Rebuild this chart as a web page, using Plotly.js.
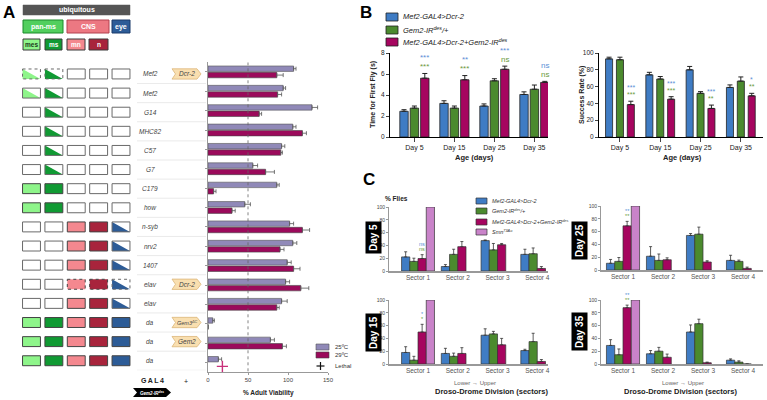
<!DOCTYPE html>
<html><head><meta charset="utf-8">
<script src="https://cdn.plot.ly/plotly-3.0.1.min.js"></script>
<style>html,body{margin:0;padding:0;background:#fff}#chart{width:767px;height:400px}</style>
</head><body><div id="chart"></div>
<script>
// ================= DATA =================
// Panel A
const driverLabels = ["Mef2","Mef2","G14","MHC82","C57","G7","C179","how","n-syb","nrv2","1407","elav","elav","da","da","da"];
const uasTags = ["Dcr-2","","","","","","","","","","","Dcr-2","","Gem3<sup>ΔC</sup>","Gem2",""];
const exprColumns = ["mes","ms","mn","n","eye"];
// 0 = not expressed, 1 = expressed, 2 = partial expression
const exprPattern = [
  [2,2,0,0,0],[2,2,0,0,0],[0,2,0,0,0],[0,2,0,0,0],[0,2,0,0,0],[0,2,0,0,0],
  [1,1,0,0,0],[1,1,0,0,0],[0,0,1,1,2],[0,0,1,1,2],[0,0,1,1,2],[0,0,1,1,2],
  [0,0,1,1,2],[1,1,1,1,1],[1,1,1,1,1],[1,1,1,1,1]];
const exprDashed = [[0,1],[],[],[],[],[],[],[],[],[],[],[2,3,4],[],[],[],[]];
const viability25 = [107,94,130,106,92,56,86,46,102,106,99,97,92,6,78,13];
const viability25Err = [3,3,7,4,4,6,3,7,5,5,5,5,7,2,5,4];
const viability29 = [86,87,64,118,91,72,7,30,118,90,107,116,86,0,93,null];
const viability29Err = [8,5,3,5,2,11,3,4,9,5,8,10,3,0,5,null];
const lethal29 = [false,false,false,false,false,false,false,false,false,false,false,false,false,false,false,true];
const lethalMarkerValue = 18;

// Panel B
const ages = ["Day 5","Day 15","Day 25","Day 35"];
const seriesNames = ["Mef2-GAL4&gt;Dcr-2","Gem2-IR<sup>des</sup>/+","Mef2-GAL4&gt;Dcr-2+Gem2-IR<sup>des</sup>"];
const timeDriver = [2.45,3.2,2.95,4.05];   const timeDriverErr = [0.15,0.25,0.2,0.25];
const timeIR = [2.75,2.75,5.35,4.55];      const timeIRErr = [0.2,0.2,0.2,0.4];
const timeKD = [5.6,5.45,6.45,5.2];        const timeKDErr = [0.45,0.4,0.3,0.1];
const rateDriver = [93,74,80,59];          const rateDriverErr = [2,3,4,3];
const rateIR = [92,69,52,66.5];            const rateIRErr = [3,3,2,5];
const rateKD = [38.6,45,34,49];            const rateKDErr = [4,3,4,3];
const timeSigVsDriver = ["***","**","***","ns"];
const timeSigVsIR = ["***","***","ns","ns"];
const rateSigVsDriver = ["***","***","***","*"];
const rateSigVsIR = ["***","***","**","**"];

// Panel C
const sectors = ["Sector 1","Sector 2","Sector 3","Sector 4"];
const smnName = "Smn<sup>73Ao</sup>";
const smnFlies = [100,null,null,null];
const cDays = ["Day 5","Day 25","Day 15","Day 35"];
const cDriver = [[22,7,47.5,26],[10.5,21.5,54,15],[18,16.5,45,21],[29,16,50,6]];
const cDriverErr = [[8,3,1,8],[6,15,3,8],[9,8,10,2],[9,5,11,2]];
const cIR = [[15,26,33,27],[13.5,15,56,13.5],[6,12,47,35],[14.5,20,63,3]];
const cIRErr = [[5,8,10,9],[6,10,11,2],[6,5,4,13],[9,6,7,2]];
const cKD = [[19.5,38,41,4],[69,16,12.5,2.5],[50,16.5,30,4],[88,10.5,2,0]];
const cKDErr = [[6,8,2,3],[7,3,2,2],[12,9,10,3],[4,5,1,0]];
const cSigVsDriver = ["ns","**","*","**"];
const cSigVsIR = ["ns","**","*","**"];

// ================= STYLE / LAYOUT HELPERS =================
const W = 767, H = 400;
const px = v => v / W;
const py = v => 1 - v / H;
const FONT = "Liberation Sans, Arial, Helvetica, sans-serif";
const colExpr = ["#8ef58a","#109a33","#f4888f","#a8243c","#2d5c97"];
const cBlue = "#3f7cc4", cGreen = "#4b8a2e", cMag = "#a6055f", cPink = "#c983c9";
const sigBlue = "#5b8fd6", sigGreen = "#6b9a3c";
const c25 = "#9089b8", c29 = "#9b0a5b";

const traces = [];
const shapes = [];
const annotations = [];
function ann(text, x, y, o) {
  annotations.push(Object.assign({text, x:px(x), y:py(y), xref:"paper", yref:"paper", showarrow:false,
    font:{family:FONT, size:7, color:"#222"}, xanchor:"center", yanchor:"middle"}, o || {}));
}
function rectPx(x0,y0,x1,y1,fill,line,lw,extra){
  shapes.push(Object.assign({type:"rect", xref:"paper", yref:"paper", x0:px(x0), x1:px(x1), y0:py(y1), y1:py(y0),
    fillcolor:fill, line:{color:line, width:(lw===undefined?1:lw)}}, extra||{}));
}

// ---------- Panel A: header legend ----------
ann("<b>A</b>", 9, 12, {font:{family:FONT,size:17,color:"#000"}});
rectPx(23,5,130,15,"#555","#555",0.5);
ann("<b>ubiquitous</b>", 76.5, 10, {font:{family:FONT,size:7,color:"#fff"}});
rectPx(23,20,63,33,"#52cf5e","#1b8a2b",1);
ann("<b>pan-ms</b>", 43, 26.5, {font:{family:FONT,size:7,color:"#fff"}});
rectPx(67,20,109,33,"#ec7882","#b3404e",1);
ann("<b>CNS</b>", 88, 26.5, {font:{family:FONT,size:7,color:"#fff"}});
rectPx(112,20,130,33,"#2d5c97","#1a3a6a",1);
ann("<b>eye</b>", 121, 26.5, {font:{family:FONT,size:7,color:"#fff"}});
const subBoxes = [[23,40,"mes","#1c3a1c"],[45,62,"ms","#fff"],[67,85,"mn","#fff"],[89,108,"n","#fff"]];
subBoxes.forEach((b,i)=>{
  rectPx(b[0],39,b[1],50,colExpr[i],"#3a3a3a",1);
  ann("<b>"+b[2]+"</b>", (b[0]+b[1])/2, 44.5, {font:{family:FONT,size:6.5,color:b[3]}});
});

// ---------- Panel A: expression grid (x2/y2) ----------
const hw = 0.4, hh = 0.26;
exprPattern.forEach((row, r) => {
  row.forEach((state, c) => {
    const dashed = exprDashed[r].indexOf(c) >= 0;
    const x0 = c - hw, x1 = c + hw, y0 = r - hh, y1 = r + hh;
    if (state === 1) {
      shapes.push({type:"rect", xref:"x2", yref:"y2", x0, x1, y0, y1, fillcolor:colExpr[c],
        line:{color:"#444", width:1, dash: dashed?"dot":"solid"}});
    } else {
      shapes.push({type:"rect", xref:"x2", yref:"y2", x0, x1, y0, y1, fillcolor:"#fff", line:{width:0}});
      if (state === 2) {
        shapes.push({type:"path", xref:"x2", yref:"y2",
          path:`M${x0},${y0} L${x0},${y1} L${x1},${y1} Z`, fillcolor:colExpr[c], line:{width:0}});
      }
      shapes.push({type:"rect", xref:"x2", yref:"y2", x0, x1, y0, y1, fillcolor:"rgba(0,0,0,0)",
        line:{color:"#6a6a6a", width:1, dash: dashed?"dot":"solid"}});
    }
  });
});
driverLabels.forEach((lab, r) => {
  annotations.push({text:"<i>"+lab+"</i>", x:px(150), y:r, xref:"paper", yref:"y2", showarrow:false,
    font:{family:FONT,size:6.5,color:"#444"}, xanchor:"center", yanchor:"middle"});
  shapes.push({type:"line", xref:"paper", yref:"y2", x0:px(137), x1:px(206), y0:r+0.5, y1:r+0.5,
    line:{color:"#e4e4e4", width:0.8}});
  if (uasTags[r]) {
    const a = px(172), b = px(197), tip = px(201), notch = px(175.5);
    shapes.push({type:"path", xref:"paper", yref:"y2",
      path:`M${a},${r-0.27} L${b},${r-0.27} L${tip},${r} L${b},${r+0.27} L${a},${r+0.27} L${notch},${r} Z`,
      fillcolor:"#f9dfb0", line:{color:"#dcb678", width:0.8}});
    annotations.push({text:"<i>"+uasTags[r]+"</i>", x:px(187), y:r, xref:"paper", yref:"y2", showarrow:false,
      font:{family:FONT,size:uasTags[r].length>6?5.5:6.5,color:"#444"}, xanchor:"center", yanchor:"middle"});
  }
});
ann("<b>G\u2009A\u2009L\u20094</b>", 152, 380, {font:{family:FONT,size:7,color:"#222"}});
ann("+", 186, 381, {font:{family:FONT,size:7,color:"#222"}});
shapes.push({type:"path", xref:"paper", yref:"paper",
  path:`M${px(133)},${py(388)} L${px(166)},${py(388)} L${px(171)},${py(392.5)} L${px(166)},${py(397)} L${px(133)},${py(397)} L${px(137)},${py(392.5)} Z`,
  fillcolor:"#000", line:{width:0}});
ann("<b><i>Gem2-IR<sup>des</sup></i></b>", 152, 392.5, {font:{family:FONT,size:4.5,color:"#fff"}});

// ---------- Panel A: viability bars ----------
const rowIdx = driverLabels.map((_, i) => i);
traces.push({type:"bar", orientation:"h", x:viability25, y:rowIdx, xaxis:"x", yaxis:"y", width:0.28, offset:-0.31,
  marker:{color:c25, line:{color:"#555", width:0.6}}, showlegend:false, hoverinfo:"skip",
  error_x:{type:"data", array:viability25Err, arrayminus:viability25Err.map(()=>0), symmetric:false, color:"#555", thickness:0.8, width:2}});
traces.push({type:"bar", orientation:"h", x:viability29, y:rowIdx, xaxis:"x", yaxis:"y", width:0.28, offset:0.02,
  marker:{color:c29, line:{color:"#444", width:0.6}}, showlegend:false, hoverinfo:"skip",
  error_x:{type:"data", array:viability29Err, arrayminus:viability29Err.map(()=>0), symmetric:false, color:"#555", thickness:0.8, width:2}});
traces.push({type:"scatter", mode:"markers", xaxis:"x", yaxis:"y", cliponaxis:false, showlegend:false, hoverinfo:"skip",
  x: rowIdx.filter(i=>lethal29[i]).map(()=>lethalMarkerValue),
  y: rowIdx.filter(i=>lethal29[i]).map(i=>i+0.2),
  marker:{symbol:"cross-thin", size:8, line:{color:"#c8307a", width:1.4}}});
shapes.push({type:"line", xref:"x", yref:"y", x0:50, x1:50, y0:-0.5, y1:15.5, line:{color:"#666", width:0.8, dash:"dot"}});
ann("<b>% Adult Viability</b>", 268, 393, {font:{family:FONT,size:6.5,color:"#222"}});
// Panel A legend
rectPx(316,344,329,350,c25,"#555",0.6);
rectPx(316,352,329,358,c29,"#444",0.6);
shapes.push({type:"line", xref:"paper", yref:"paper", x0:px(316.5), x1:px(324.5), y0:py(366), y1:py(366), line:{color:"#111", width:1.2}});
shapes.push({type:"line", xref:"paper", yref:"paper", x0:px(320.5), x1:px(320.5), y0:py(362), y1:py(370), line:{color:"#111", width:1.2}});
ann("25ºC", 333, 347, {xanchor:"left", font:{family:FONT,size:6,color:"#333"}});
ann("29ºC", 333, 355, {xanchor:"left", font:{family:FONT,size:6,color:"#333"}});
ann("Lethal", 333, 366, {xanchor:"left", font:{family:FONT,size:6,color:"#333"}});

// ---------- Panel B ----------
ann("<b>B</b>", 366, 13, {font:{family:FONT,size:17,color:"#000"}});
const bColors = [cBlue, cGreen, cMag];
[17,30,42].forEach((yy,i)=>{
  rectPx(386,yy-4,398,yy+4,bColors[i],"#222",0.8);
  ann("<i>"+seriesNames[i]+"</i>", 401, yy, {xanchor:"left", font:{family:FONT,size:7.5,color:"#222"}});
});
function bPanel(ax, vals, errs, width, offsets) {
  vals.forEach((v,i)=>{
    traces.push({type:"bar", x:ages, y:v, xaxis:"x"+ax, yaxis:"y"+ax, width:width, offset:offsets[i],
      marker:{color:bColors[i], line:{color:"#222", width:0.8}}, showlegend:false, hoverinfo:"skip",
      error_y:{type:"data", array:errs[i], arrayminus:errs[i].map(()=>0), symmetric:false, color:"#222", thickness:1, width:2.5}});
  });
}
bPanel(3, [timeDriver,timeIR,timeKD], [timeDriverErr,timeIRErr,timeKDErr], 0.21, [-0.365,-0.105,0.155]);
bPanel(4, [rateDriver,rateIR,rateKD], [rateDriverErr,rateIRErr,rateKDErr], 0.175, [-0.3575,-0.0875,0.1825]);
function sigAnn(ax, vals, errs, sigA, sigB, xoff, dA, dB, size) {
  vals.forEach((v,i)=>{
    const top = v + errs[i];
    annotations.push({text:sigB[i], x:i+xoff, y:top, xref:"x"+ax, yref:"y"+ax, showarrow:false, yanchor:"middle", yshift:dB,
      font:{family:FONT,size:size,color:sigGreen}});
    annotations.push({text:sigA[i], x:i+xoff, y:top, xref:"x"+ax, yref:"y"+ax, showarrow:false, yanchor:"middle", yshift:dA,
      font:{family:FONT,size:size,color:sigBlue}});
  });
}
sigAnn(3, timeKD, timeKDErr, timeSigVsDriver, timeSigVsIR, 0.26, 16, 7, 8);
sigAnn(4, rateKD, rateKDErr, rateSigVsDriver, rateSigVsIR, 0.27, 13.5, 6.5, 7);
ann("<b>Time for First Fly (s)</b>", 373, 95, {textangle:-90, font:{family:FONT,size:7,color:"#222"}});
ann("<b>Success Rate (%)</b>", 582, 95, {textangle:-90, font:{family:FONT,size:7,color:"#222"}});
ann("<b>Age (days)</b>", 475, 157, {font:{family:FONT,size:7.5,color:"#222"}});
ann("<b>Age (days)</b>", 682, 157, {font:{family:FONT,size:7.5,color:"#222"}});

// ---------- Panel C ----------
ann("<b>C</b>", 369, 179, {font:{family:FONT,size:17,color:"#000"}});
ann("<b>% Flies</b>", 383, 198, {xanchor:"left", font:{family:FONT,size:6.5,color:"#222"}});
const cColors = [cBlue, cGreen, cMag, cPink];
const cNames = seriesNames.concat([smnName]);
[201,211,222,232].forEach((yy,i)=>{
  rectPx(476,yy-3,487,yy+3,cColors[i],"#333",0.7);
  ann("<i>"+cNames[i]+"</i>", 490, yy, {xanchor:"left", font:{family:FONT,size:5.5,color:"#333"}});
});
const cOffsets = [-0.414,-0.207,0,0.207];
cDays.forEach((d, k)=>{
  const ax = 5 + k;
  const sets = [[cDriver[k],cDriverErr[k]],[cIR[k],cIRErr[k]],[cKD[k],cKDErr[k]],[smnFlies,null]];
  sets.forEach((s,i)=>{
    const t = {type:"bar", x:sectors, y:s[0], xaxis:"x"+ax, yaxis:"y"+ax, width:0.207, offset:cOffsets[i],
      marker:{color:cColors[i], line:{color:"#333", width:0.7}}, showlegend:false, hoverinfo:"skip"};
    if (s[1]) t.error_y = {type:"data", array:s[1], arrayminus:s[1].map(()=>0), symmetric:false, color:"#333", thickness:0.8, width:1.5};
    traces.push(t);
  });
  const top = cKD[k][0] + cKDErr[k][0];
  annotations.push({text:cSigVsIR[k], x:0.1035, y:top, xref:"x"+ax, yref:"y"+ax, showarrow:false, yanchor:"middle", yshift:5.5,
    font:{family:FONT,size:5.5,color:sigGreen}});
  annotations.push({text:cSigVsDriver[k], x:0.1035, y:top, xref:"x"+ax, yref:"y"+ax, showarrow:false, yanchor:"middle", yshift:10.5,
    font:{family:FONT,size:5.5,color:sigBlue}});
});
const dayBoxPos = [[373,238],[579,241],[373,333],[579,332]];
cDays.forEach((d,k)=>{
  ann("<b>"+d+"</b>", dayBoxPos[k][0], dayBoxPos[k][1], {textangle:-90, bgcolor:"#000", borderpad:2,
    font:{family:FONT,size:10,color:"#fff"}});
});
ann("Lower \u2192 Upper", 475, 383, {font:{family:FONT,size:6,color:"#666"}});
ann("<b>Droso-Drome Division (sectors)</b>", 491, 391.5, {font:{family:FONT,size:7.5,color:"#222"}});
ann("Lower \u2192 Upper", 683, 383, {font:{family:FONT,size:6,color:"#666"}});
ann("<b>Droso-Drome Division (sectors)</b>", 680, 391.5, {font:{family:FONT,size:7.5,color:"#222"}});

// ================= AXES =================
const baseAx = {showgrid:false, zeroline:false, showline:true, fixedrange:true};
const layout = {
  width:W, height:H, autosize:false, margin:{l:0,r:0,t:0,b:0}, paper_bgcolor:"#fff", plot_bgcolor:"rgba(0,0,0,0)",
  barmode:"overlay", showlegend:false, font:{family:FONT, color:"#222"},
  shapes, annotations,
  xaxis: Object.assign({}, baseAx, {domain:[px(208),px(328)], range:[0,150], anchor:"y", tickvals:[0,50,100,150],
    ticks:"outside", ticklen:2, tickfont:{size:6,color:"#444"}, linecolor:"#999", linewidth:1, tickcolor:"#999"}),
  yaxis: Object.assign({}, baseAx, {domain:[py(372.2),py(62.3)], range:[15.5,-0.5], anchor:"x", tickvals:rowIdx,
    showticklabels:false, ticks:"outside", ticklen:2, linecolor:"#999", linewidth:1, tickcolor:"#999"}),
  xaxis2: {domain:[px(20.3),px(132.2)], range:[-0.5,4.5], anchor:"y2", visible:false, fixedrange:true},
  yaxis2: {domain:[py(370.3),py(64.4)], range:[15.5,-0.5], anchor:"x2", visible:false, fixedrange:true},
  xaxis3: Object.assign({}, baseAx, {domain:[px(390),px(548)], type:"category", categoryarray:ages, range:[-0.61,3.34], anchor:"y3",
    ticks:"outside", ticklen:4, tickfont:{size:7,color:"#222"}, linecolor:"#000", linewidth:1}),
  yaxis3: Object.assign({}, baseAx, {domain:[py(137),py(53)], range:[0,8], anchor:"x3", tickvals:[0,2,4,6,8],
    ticks:"outside", ticklen:3, tickfont:{size:6.5,color:"#222"}, linecolor:"#000", linewidth:1}),
  xaxis4: Object.assign({}, baseAx, {domain:[px(599),px(763)], type:"category", categoryarray:ages, range:[-0.52,3.55], anchor:"y4",
    ticks:"outside", ticklen:4, tickfont:{size:7,color:"#222"}, linecolor:"#000", linewidth:1}),
  yaxis4: Object.assign({}, baseAx, {domain:[py(137),py(53)], range:[0,100], anchor:"x4", tickvals:[0,20,40,60,80,100],
    ticks:"outside", ticklen:3, tickfont:{size:6.5,color:"#222"}, linecolor:"#000", linewidth:1})
};
const cDom = [
  {x:[389,548], y:[271,207], r:[-0.73,3.27]},
  {x:[601,763], y:[270,206], r:[-0.55,3.5]},
  {x:[389,548], y:[364,300], r:[-0.73,3.27]},
  {x:[601,763], y:[364,300], r:[-0.55,3.5]}];
cDom.forEach((d,k)=>{
  const ax = 5 + k;
  layout["xaxis"+ax] = Object.assign({}, baseAx, {domain:[px(d.x[0]),px(d.x[1])], type:"category", categoryarray:sectors,
    range:d.r, anchor:"y"+ax, ticks:"", tickfont:{size:6.5,color:"#555"}, linecolor:"#999", linewidth:1.5});
  layout["yaxis"+ax] = Object.assign({}, baseAx, {domain:[py(d.y[0]),py(d.y[1])], range:[0,100], anchor:"x"+ax,
    tickvals:[0,20,40,60,80,100], ticks:"outside", ticklen:2, tickfont:{size:5,color:"#444"}, linecolor:"#999",
    linewidth:1, tickcolor:"#999"});
});

Plotly.newPlot("chart", traces, layout, {staticPlot:true, displayModeBar:false});
</script></body></html>
